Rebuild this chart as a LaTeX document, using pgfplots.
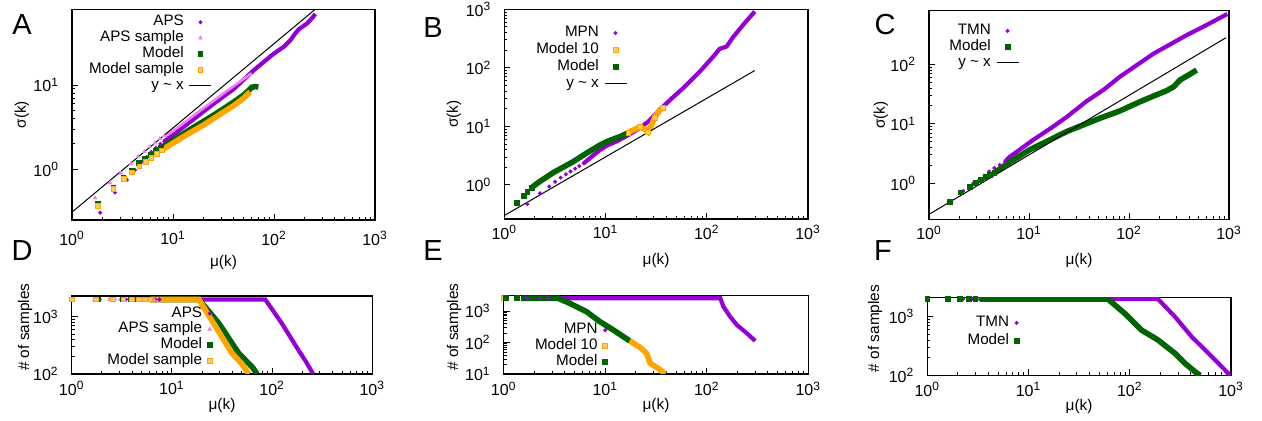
\documentclass[border=0pt]{standalone}
\usepackage{fontspec}
\setmainfont{Liberation Sans}
\usepackage{pgfplots}
\pgfplotsset{compat=1.18}
\definecolor{cpur}{HTML}{9400D3}
\definecolor{cpink}{HTML}{EE82EE}
\definecolor{cgrn}{HTML}{006400}
\definecolor{corg}{HTML}{FFA500}
\pgfplotsset{
  pur/.style={only marks, mark=*, mark size=0.8pt, color=cpur},
  pnk/.style={only marks, mark=triangle*, mark size=1pt, color=cpink},
  grn/.style={only marks, mark=square*, mark size=1.2pt, color=cgrn},
  org/.style={only marks, mark=square*, mark size=1.2pt, mark options={draw=corg, fill=corg!60!white}, color=corg},
  purL/.style={forget plot, no marks, cpur, line width=2.1pt},
  pnkL/.style={forget plot, no marks, cpink, line width=1.3pt},
  grnL/.style={forget plot, no marks, cgrn, line width=2.8pt},
  orgL/.style={forget plot, no marks, corg, line width=2.8pt},
  yxline/.style={no marks, black, line width=0.5pt},
}
\begin{document}
\begin{tikzpicture}
\useasboundingbox (0pt,0pt) rectangle (631pt,-210.5pt);
\node[font=\fontsize{14.5}{15}\selectfont] at (11pt,-12.5pt) {A};
\node[font=\fontsize{14.5}{15}\selectfont] at (216.5pt,-14pt) {B};
\node[font=\fontsize{14.5}{15}\selectfont] at (442.5pt,-12.5pt) {C};
\node[font=\fontsize{14.5}{15}\selectfont] at (11pt,-125.5pt) {D};
\node[font=\fontsize{14.5}{15}\selectfont] at (216.5pt,-125.5pt) {E};
\node[font=\fontsize{14.5}{15}\selectfont] at (441.5pt,-125.5pt) {F};

% ---------------- A
\begin{axis}[xmode=log, ymode=log, scale only axis, anchor=north west,
    xmin=1, xmax=1000, xtick={1,10,100,1000},
    xticklabels={10\textsuperscript{0},10\textsuperscript{1},10\textsuperscript{2},10\textsuperscript{3}},
    xtick pos=bottom, ytick pos=left,
    tick label style={font=\fontsize{8}{9}\selectfont},
    x tick label style={yshift=-2pt}, y tick label style={xshift=-3pt},
    label style={font=\fontsize{7.7}{9}\selectfont},
    axis line style={line width=0.7pt},
    major tick length=3pt, minor tick length=1.5pt,
    tick style={black, line width=0.45pt},
    legend plot pos=right, legend cell align=right,
    legend style={draw=none, fill=none, font=\fontsize{7.6}{8}\selectfont, inner sep=0pt, outer sep=0pt, row sep=0pt, column sep=2pt,
      nodes={inner sep=0.6pt, text height=5.2pt, text depth=1.5pt}},
    legend image code/.code={\draw[mark repeat=2,mark phase=2,#1] plot coordinates {(0pt,0pt)(5.5pt,0pt)(11pt,0pt)};},
  at={(36pt,-4.75pt)}, width=151.5pt, height=105.25pt,
  ymin=0.25, ymax=79, ytick={1,10}, yticklabels={10\textsuperscript{0},10\textsuperscript{1}},
  ylabel={σ(k)}, xlabel={μ(k)},
  ylabel style={at={(axis description cs:-0.165,0.5)}, anchor=center},
  xlabel style={at={(axis description cs:0.5,-0.2)}, anchor=center},
  legend style={at={(0.462,0.977)}, anchor=north east}]
\addplot[pur] coordinates {(1.9,0.305)(2.67,0.53)(3.49,0.75)(4.2,0.98)(4.84,1.21)(5.5,1.4)(6.1,1.6)(6.8,1.8)(7.5,2.0)(8.2,2.15)};
\addlegendentry{APS}
\addplot[purL] coordinates {(8.2,2.15)(10,2.55)(15,3.7)(20,4.85)(30,7.0)(40,9.0)(63,15)(99,23.5)(125,28.5)(145,34)(160,40)(176,46)(213,54)(240,63)(257,70)};
\addplot[pnk] coordinates {(1.69,0.457)(2.38,0.69)(3.04,0.90)(3.82,1.16)(4.51,1.41)(5.2,1.62)(5.9,1.85)(6.6,2.05)(7.4,2.3)(8.2,2.5)};
\addlegendentry{APS sample}
\addplot[pnkL] coordinates {(8.2,2.5)(10,2.85)(15,4.1)(20,5.3)(30,7.6)(45,10.8)(60,13.8)};
\addplot[grn] coordinates {(1.82,0.39)(2.57,0.60)(3.23,0.80)(3.91,0.95)(4.62,1.18)(5.3,1.32)(6.0,1.48)(6.8,1.65)(7.6,1.8)};
\addlegendentry{Model}
\addplot[grnL] coordinates {(7.6,1.8)(10,2.2)(15,3.0)(20,3.7)(30,5.0)(40,6.3)(50,7.6)(57,8.8)(60,9.4)(65,9.6)(70,9.5)};
\addplot[org] coordinates {(1.82,0.37)(2.57,0.58)(3.27,0.77)(3.93,0.92)(4.65,1.08)(5.35,1.22)(6.1,1.37)(6.9,1.52)(7.7,1.68)};
\addlegendentry{Model sample}
\addplot[orgL] coordinates {(7.7,1.68)(10,2.05)(15,2.75)(20,3.35)(30,4.6)(40,5.7)(50,7.0)(58,8.3)};
\addplot[yxline] coordinates {(1,0.31)(257,79.7)};
\addlegendentry{y \textasciitilde{} x}
\end{axis}

% ---------------- B
\begin{axis}[xmode=log, ymode=log, scale only axis, anchor=north west,
    xmin=1, xmax=1000, xtick={1,10,100,1000},
    xticklabels={10\textsuperscript{0},10\textsuperscript{1},10\textsuperscript{2},10\textsuperscript{3}},
    xtick pos=bottom, ytick pos=left,
    tick label style={font=\fontsize{8}{9}\selectfont},
    x tick label style={yshift=0.5pt}, y tick label style={xshift=-3pt},
    label style={font=\fontsize{7.7}{9}\selectfont},
    axis line style={line width=0.7pt},
    major tick length=3pt, minor tick length=1.5pt,
    tick style={black, line width=0.45pt},
    legend plot pos=right, legend cell align=right,
    legend style={draw=none, fill=none, font=\fontsize{7.6}{8}\selectfont, inner sep=0pt, outer sep=0pt, row sep=0.6pt, column sep=2pt,
      nodes={inner sep=0.6pt, text height=5.2pt, text depth=1.5pt}},
    legend image code/.code={\draw[mark repeat=2,mark phase=2,#1] plot coordinates {(0pt,0pt)(5.5pt,0pt)(11pt,0pt)};},
  at={(252.15pt,-4.65pt)}, width=151.85pt, height=104.85pt,
  ymin=0.262, ymax=1000, ytick={1,10,100,1000}, yticklabels={10\textsuperscript{0},10\textsuperscript{1},10\textsuperscript{2},10\textsuperscript{3}},
  ylabel={σ(k)}, xlabel={μ(k)},
  ylabel style={at={(axis description cs:-0.166,0.5)}, anchor=center},
  xlabel style={at={(axis description cs:0.5,-0.2)}, anchor=center},
  legend style={at={(0.404,0.925)}, anchor=north east}]
\addplot[pur] coordinates {(1.69,0.47)(2.25,0.72)(2.78,0.94)(3.17,1.13)(3.6,1.33)(4.06,1.52)(4.5,1.7)(5.0,1.9)(5.5,2.1)(6.1,2.35)};
\addlegendentry{MPN}
\addplot[purL] coordinates {(6.1,2.35)(8.8,3.96)(10.3,4.7)(13,5.6)(17,7.2)(22,9.5)(26,11.8)(29.6,14.7)(37,21.8)(45,30)(58.5,45)(85.5,86.5)(116,156)(134,211)(157,231)(182,335)(229,543)(298,918)};
\addplot[org] coordinates {(16.8,7.8)(21.8,9.7)(26.4,8.0)(30.6,14.1)(37,21)};
\addlegendentry{Model 10}
\addplot[orgL] coordinates {(16.8,7.8)(18.8,8.7)(21.8,9.7)(24.4,9.0)(26.4,8.0)(28.5,10.6)(30.6,14.1)(34.4,19.1)(37,21)};
\addplot[grn] coordinates {(1.34,0.49)(1.56,0.65)(1.69,0.77)(1.86,0.9)};
\addlegendentry{Model}
\addplot[grnL] coordinates {(1.86,0.9)(2.2,1.12)(3,1.6)(4.8,2.5)(6.5,3.5)(8.8,4.8)(10.3,5.5)(13.9,6.7)(16.8,7.8)};
\addplot[yxline] coordinates {(1,0.3)(298,90)};
\addlegendentry{y \textasciitilde{} x}
\end{axis}

% ---------------- C
\begin{axis}[xmode=log, ymode=log, scale only axis, anchor=north west,
    xmin=1, xmax=1000, xtick={1,10,100,1000},
    xticklabels={10\textsuperscript{0},10\textsuperscript{1},10\textsuperscript{2},10\textsuperscript{3}},
    xtick pos=bottom, ytick pos=left,
    tick label style={font=\fontsize{8}{9}\selectfont},
    x tick label style={yshift=0.2pt}, y tick label style={xshift=-3pt},
    label style={font=\fontsize{7.7}{9}\selectfont},
    axis line style={line width=0.7pt},
    major tick length=3pt, minor tick length=1.5pt,
    tick style={black, line width=0.45pt},
    legend plot pos=right, legend cell align=right,
    legend style={draw=none, fill=none, font=\fontsize{7.6}{8}\selectfont, inner sep=0pt, outer sep=0pt, row sep=0pt, column sep=2pt,
      nodes={inner sep=0.6pt, text height=5.2pt, text depth=1.5pt}},
    legend image code/.code={\draw[mark repeat=2,mark phase=2,#1] plot coordinates {(0pt,0pt)(5.5pt,0pt)(11pt,0pt)};},
  at={(464.5pt,-5.35pt)}, width=150pt, height=104.3pt,
  ymin=0.248, ymax=796, ytick={1,10,100}, yticklabels={10\textsuperscript{0},10\textsuperscript{1},10\textsuperscript{2}},
  ylabel={σ(k)}, xlabel={μ(k)},
  ylabel style={at={(axis description cs:-0.16,0.5)}, anchor=center},
  xlabel style={at={(axis description cs:0.5,-0.2)}, anchor=center},
  legend style={at={(0.3,0.941)}, anchor=north east}]
\addplot[pur] coordinates {(1.65,0.47)(2.2,0.74)(2.77,1.0)(3.2,1.17)(3.6,1.33)(4.0,1.57)(4.5,1.8)(5.1,2.03)(5.75,2.3)};
\addlegendentry{TMN}
\addplot[purL] coordinates {(5.75,2.3)(6.46,2.8)(11,5.35)(17.5,9.0)(23.8,13.0)(37.7,24)(55.4,37)(81.3,62)(175,150)(378,310)(553,428)(962,700)};
\addplot[grn] coordinates {(1.62,0.49)(2.09,0.70)(2.57,0.86)(2.95,1.0)(3.31,1.14)(3.7,1.27)(4.1,1.38)(4.5,1.5)};
\addlegendentry{Model}
\addplot[grnL] coordinates {(4.5,1.5)(6,2.1)(10,3.6)(23.8,7.4)(51.3,12.4)(81.3,16.5)(129,23.5)(165,28)(238,36)(280,42)(324,54.5)(400,67)(475,80)};
\addplot[yxline] coordinates {(1,0.3)(933,280)};
\addlegendentry{y \textasciitilde{} x}
\end{axis}

% ---------------- D
\begin{axis}[xmode=log, ymode=log, scale only axis, anchor=north west,
    xmin=1, xmax=1000, xtick={1,10,100,1000},
    xticklabels={10\textsuperscript{0},10\textsuperscript{1},10\textsuperscript{2},10\textsuperscript{3}},
    xtick pos=bottom, ytick pos=left,
    tick label style={font=\fontsize{8}{9}\selectfont},
    x tick label style={yshift=0pt}, y tick label style={xshift=-3pt},
    label style={font=\fontsize{7.7}{9}\selectfont},
    axis line style={line width=0.7pt},
    major tick length=3pt, minor tick length=1.5pt,
    tick style={black, line width=0.45pt},
    legend plot pos=right, legend cell align=right,
    legend style={draw=none, fill=none, font=\fontsize{7.6}{8}\selectfont, inner sep=0pt, outer sep=0pt, row sep=0pt, column sep=2pt,
      nodes={inner sep=0.6pt, text height=5.2pt, text depth=1.5pt}},
    legend image code/.code={\draw[mark repeat=2,mark phase=2,#1] plot coordinates {(0pt,0pt)(5.5pt,0pt)(11pt,0pt)};},
  at={(35.85pt,-148pt)}, width=150.3pt, height=39pt,
  ymin=100, ymax=2300, ytick={100,1000}, yticklabels={10\textsuperscript{2},10\textsuperscript{3}},
  ylabel={\# of samples}, xlabel={μ(k)},
  ylabel style={at={(axis description cs:-0.155,0.6)}, anchor=center},
  xlabel style={at={(axis description cs:0.5,-0.4)}, anchor=center},
  legend style={at={(0.467,0.877)}, anchor=north east}]
\addplot[pur] coordinates {(1.9,2000)(2.67,2000)(3.49,2000)(4.2,2000)(4.84,2000)(5.5,2000)(6.1,2000)(6.8,2000)(7.5,2000)};
\addlegendentry{APS}
\addplot[purL] coordinates {(7.5,2000)(85.5,2000)(125,767)(183,262)(213,175)(257,100)};
\addplot[pnk] coordinates {(1.69,2000)(2.38,2000)(3.04,2000)(3.82,2000)(4.51,2000)(5.2,2000)(5.9,2000)(6.6,2000)};
\addlegendentry{APS sample}
\addplot[pnkL] coordinates {(6.6,2000)(18.6,2000)(27.3,670)(39.8,230)(58.3,100)};
\addplot[grn] coordinates {(1.82,2000)(2.57,2000)(3.23,2000)(3.91,2000)(4.62,2000)(5.3,2000)(6.0,2000)};
\addlegendentry{Model}
\addplot[grnL] coordinates {(6.0,2000)(18.6,2000)(29.4,767)(46.4,230)(60.6,143)(65,125)(70.5,100)};
\addplot[org] coordinates {(1,2000)(1.76,2000)(2.57,2000)(3.28,2000)(4.0,2000)(4.7,2000)(5.4,2000)(6.1,2000)};
\addlegendentry{Model sample}
\addplot[orgL] coordinates {(6.1,2000)(18.6,2000)(27.3,670)(39.8,230)(50,150)(58.3,100)};
\end{axis}

% ---------------- E
\begin{axis}[xmode=log, ymode=log, scale only axis, anchor=north west,
    xmin=1, xmax=1000, xtick={1,10,100,1000},
    xticklabels={10\textsuperscript{0},10\textsuperscript{1},10\textsuperscript{2},10\textsuperscript{3}},
    xtick pos=bottom, ytick pos=left,
    tick label style={font=\fontsize{8}{9}\selectfont},
    x tick label style={yshift=-0.4pt}, y tick label style={xshift=-3pt},
    label style={font=\fontsize{7.7}{9}\selectfont},
    axis line style={line width=0.7pt},
    major tick length=3pt, minor tick length=1.5pt,
    tick style={black, line width=0.45pt},
    legend plot pos=right, legend cell align=right,
    legend style={draw=none, fill=none, font=\fontsize{7.6}{8}\selectfont, inner sep=0pt, outer sep=0pt, row sep=0pt, column sep=2pt,
      nodes={inner sep=0.6pt, text height=5.2pt, text depth=1.5pt}},
    legend image code/.code={\draw[mark repeat=2,mark phase=2,#1] plot coordinates {(0pt,0pt)(5.5pt,0pt)(11pt,0pt)};},
  at={(251.85pt,-147.85pt)}, width=152.3pt, height=39.15pt,
  ymin=10, ymax=3060, ytick={10,100,1000}, yticklabels={10\textsuperscript{1},10\textsuperscript{2},10\textsuperscript{3}},
  ylabel={\# of samples}, xlabel={μ(k)},
  ylabel style={at={(axis description cs:-0.163,0.6)}, anchor=center},
  xlabel style={at={(axis description cs:0.5,-0.4)}, anchor=center},
  legend style={at={(0.341,0.66)}, anchor=north east}]
\addplot[pur] coordinates {(1.69,2530)(2.25,2530)(2.76,2530)};
\addlegendentry{MPN}
\addplot[purL] coordinates {(2.76,2530)(136,2530)(146,1370)(170,660)(198,360)(249,195)(300,112)};
\addplot[org] coordinates {(1,2530)};
\addlegendentry{Model 10}
\addplot[orgL] coordinates {(16.9,120)(22,70)(25.6,45)(27.6,22)(33.4,15)(38.9,10)};
\addplot[grn] coordinates {(1.055,2530)(1.36,2530)};
\addlegendentry{Model}
\addplot[grnL] coordinates {(1.48,2530)(3.44,2530)(4.48,1750)(6.55,950)(8.87,457)(12,250)(16.9,120)(17.4,115)};
\end{axis}

% ---------------- F
\begin{axis}[xmode=log, ymode=log, scale only axis, anchor=north west,
    xmin=1, xmax=1000, xtick={1,10,100,1000},
    xticklabels={10\textsuperscript{0},10\textsuperscript{1},10\textsuperscript{2},10\textsuperscript{3}},
    xtick pos=bottom, ytick pos=left,
    tick label style={font=\fontsize{8}{9}\selectfont},
    x tick label style={yshift=0pt}, y tick label style={xshift=-3pt},
    label style={font=\fontsize{7.7}{9}\selectfont},
    axis line style={line width=0.7pt},
    major tick length=3pt, minor tick length=1.5pt,
    tick style={black, line width=0.45pt},
    legend plot pos=right, legend cell align=right,
    legend style={draw=none, fill=none, font=\fontsize{7.6}{8}\selectfont, inner sep=0pt, outer sep=0pt, row sep=0.9pt, column sep=2pt,
      nodes={inner sep=0.6pt, text height=5.2pt, text depth=1.5pt}},
    legend image code/.code={\draw[mark repeat=2,mark phase=2,#1] plot coordinates {(0pt,0pt)(5.5pt,0pt)(11pt,0pt)};},
  at={(463.65pt,-148.65pt)}, width=151.85pt, height=39pt,
  ymin=100, ymax=2140, ytick={100,1000}, yticklabels={10\textsuperscript{2},10\textsuperscript{3}},
  ylabel={\# of samples}, xlabel={μ(k)},
  ylabel style={at={(axis description cs:-0.172,0.6)}, anchor=center},
  xlabel style={at={(axis description cs:0.5,-0.4)}, anchor=center},
  legend style={at={(0.302,0.773)}, anchor=north east}]
\addplot[pur] coordinates {(1.65,2000)(2.26,2000)(2.77,2000)};
\addlegendentry{TMN}
\addplot[purL] coordinates {(3.2,2000)(190,2000)(279,1000)(408,456)(599,237)(982,100)};
\addplot[grn] coordinates {(1,2000)(1.6,2000)(2.1,2000)(2.56,2000)(2.98,2000)};
\addlegendentry{Model}
\addplot[grnL] coordinates {(3.3,2000)(60.7,2000)(88.8,1143)(130,593)(190,400)(279,237)(351,160)(441,115)(494,100)};
\end{axis}
\end{tikzpicture}
\end{document}
